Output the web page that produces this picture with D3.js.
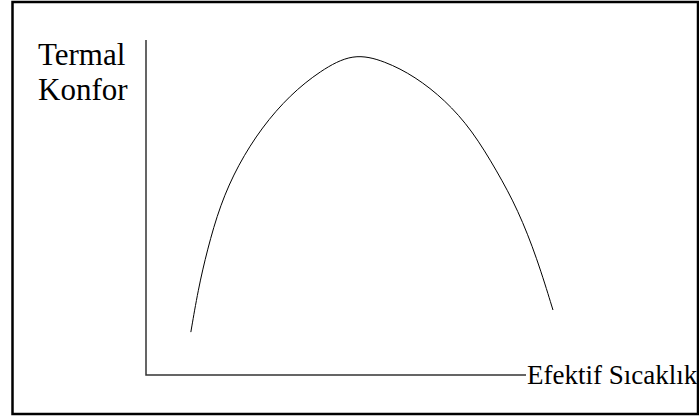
<!DOCTYPE html>
<html>
<head>
<meta charset="utf-8">
<script src="https://cdn.jsdelivr.net/npm/d3@7"></script>
<style>
  body { margin: 0; background: #fff; }
  text { font-family: "Liberation Serif", "Times New Roman", Times, serif; fill: #000; }
</style>
</head>
<body>
<svg width="699" height="417"></svg>
<script>
// libellés des axes
const yLabel = ['Termal', 'Konfor'];
const xLabel = 'Efektif Sıcaklık';

// points de la courbe (sans unité)
const temp    = [1.18, 1.37, 1.61, 1.95, 2.42, 3.05, 3.79, 4.58, 5.45,
                 6.29, 7.08, 7.87, 8.58, 9.24, 9.79, 10.29, 10.71];
const confort = [1.28, 2.54, 3.73, 5.08, 6.27, 7.40, 8.36, 9.08, 9.62,
                 9.37, 8.91, 8.21, 7.31, 6.08, 4.93, 3.49, 1.94];

const svg = d3.select('svg');

// échelles
const x = d3.scaleLinear().domain([0, 10]).range([146, 526]);
const y = d3.scaleLinear().domain([0, 10]).range([375, 40]);

// cadre
svg.append('rect')
    .attr('x', 12.5).attr('y', 2)
    .attr('width', 685.5).attr('height', 412)
    .attr('fill', 'none')
    .attr('stroke', '#000')
    .attr('stroke-width', 2.5);

// axes
svg.append('path')
    .attr('d', d3.line()([[x(0), y(10)], [x(0), y(0)], [x(10), y(0)]]))
    .attr('fill', 'none')
    .attr('stroke', '#333')
    .attr('stroke-width', 1.5);

// courbe lissée
const ligne = d3.line()
    .x((d, i) => x(temp[i]))
    .y(d => y(d))
    .curve(d3.curveBasis);

svg.append('path')
    .attr('d', ligne(confort))
    .attr('fill', 'none')
    .attr('stroke', '#000')
    .attr('stroke-width', 1);

// textes
svg.selectAll('text.yl')
    .data(yLabel)
    .join('text')
    .attr('class', 'yl')
    .attr('x', 38)
    .attr('y', (d, i) => 65 + i * 35)
    .attr('font-size', 31)
    .text(d => d);

svg.append('text')
    .attr('x', x(10) + 1)
    .attr('y', y(0) + 9)
    .attr('font-size', 27)
    .text(xLabel);
</script>
</body>
</html>
